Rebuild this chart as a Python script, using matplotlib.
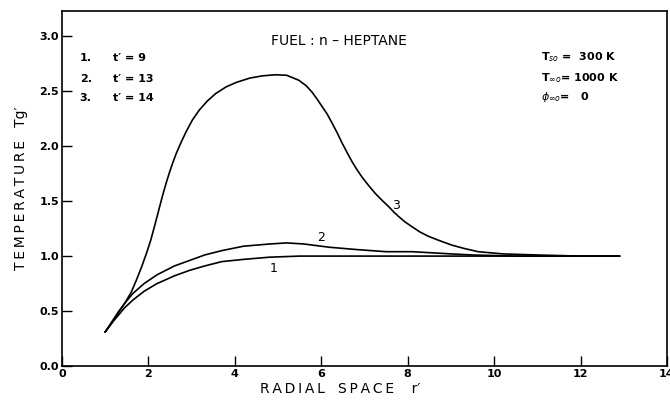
import matplotlib
matplotlib.use("Agg")
from matplotlib import pyplot as plt

# Gas temperature profiles (r', Tg')
r1 = [1.0, 1.15, 1.3, 1.45, 1.64, 1.9, 2.2, 2.6, 2.95, 3.3, 3.7, 4.2, 4.8, 5.5, 6.5, 8.0, 10.0, 12.9]
t1 = [0.31, 0.39, 0.46, 0.53, 0.60, 0.68, 0.75, 0.82, 0.87, 0.91, 0.95, 0.97, 0.99, 1.0, 1.0,
      1.0, 1.0, 1.0]

r2 = [1.0, 1.15, 1.3, 1.45, 1.64, 1.9, 2.2, 2.6, 2.95, 3.3, 3.7, 4.2, 4.8, 5.2, 5.6, 6.2, 6.8,
      7.5, 8.1, 9.0, 9.5, 10.5, 12.9]
t2 = [0.31, 0.40, 0.49, 0.57, 0.66, 0.75, 0.83, 0.91, 0.96, 1.01, 1.05, 1.09, 1.11, 1.12, 1.11,
      1.08, 1.06, 1.04, 1.04, 1.02, 1.01, 1.0, 1.0]

r3 = [1.0, 1.15, 1.3, 1.45, 1.6, 1.72, 1.85, 1.95, 2.05, 2.14, 2.2, 2.26, 2.32, 2.37, 2.43,
      2.49, 2.56, 2.64, 2.75, 2.87, 3.02, 3.18, 3.36, 3.56, 3.8, 4.03, 4.35, 4.64, 4.95, 5.2,
      5.48, 5.65, 5.79, 5.9, 6.02, 6.14, 6.25, 6.37, 6.48, 6.6, 6.71, 6.82, 6.94, 7.1, 7.25,
      7.4, 7.56, 7.68, 7.79, 7.94, 8.09, 8.28, 8.48, 8.74, 9.02, 9.3, 9.63, 10.2, 11.0, 12.0,
      12.9]
t3 = [0.31, 0.39, 0.48, 0.57, 0.67, 0.78, 0.91, 1.02, 1.14, 1.27, 1.36, 1.45, 1.54, 1.61, 1.69,
      1.765, 1.845, 1.93, 2.03, 2.13, 2.24, 2.33, 2.41, 2.48, 2.54, 2.58, 2.62, 2.64, 2.65, 2.645,
      2.60, 2.55, 2.49, 2.43, 2.36, 2.29, 2.21, 2.12, 2.03, 1.94, 1.86, 1.79, 1.72, 1.64, 1.57,
      1.51, 1.45, 1.40, 1.36, 1.31, 1.27, 1.22, 1.18, 1.14, 1.10, 1.07, 1.04, 1.02, 1.01, 1.00,
      1.00]

times = ["9", "13", "14"]
xticks = [0, 2, 4, 6, 8, 10, 12, 14]
yticks = [0.0, 0.5, 1.0, 1.5, 2.0, 2.5, 3.0]


def spaced(s):
    # loose letter spacing like the typeset original
    return "\u2009".join(s)


fig = plt.figure(figsize=(6.7, 4.05), dpi=100)
ax = fig.add_axes([62 / 670, 1 - 366 / 405, 605 / 670, 355 / 405])

for r, t in [(r1, t1), (r2, t2), (r3, t3)]:
    ax.plot(r, t, color="black", lw=1.2, solid_joinstyle="round")

ax.set_xlim(0, 14)
ax.set_ylim(0, 3.23)
ax.set_xticks(xticks)
ax.set_xticklabels([str(x) for x in xticks])
ax.set_yticks(yticks)
ax.set_yticklabels(["%.1f" % y for y in yticks])
ax.tick_params(direction="in", length=7, width=1.0, labelsize=8, pad=2)
for lab in ax.get_xticklabels() + ax.get_yticklabels():
    lab.set_fontweight("bold")
for s in ax.spines.values():
    s.set_linewidth(1.2)

ax.set_xlabel(spaced("RADIAL") + "   " + spaced("SPACE") + "    r\u2032", fontsize=10)
ax.xaxis.set_label_coords(0.46, -0.045, transform=ax.transAxes)
ax.xaxis.label.set_va("top")
ax.set_ylabel(spaced("TEMPERATURE") + "   Tg\u2032", fontsize=10, labelpad=8)

# curve labels
ax.text(4.9, 0.89, "1", fontsize=9, ha="center", va="center")
ax.text(6.0, 1.17, "2", fontsize=9, ha="center", va="center")
ax.text(7.72, 1.46, "3", fontsize=9, ha="center", va="center")

ax.text(6.41, 2.96, "FUEL : n \u2013 HEPTANE", fontsize=10, ha="center", va="center")

rows = [2.80, 2.61, 2.44]
for i, (tm, y) in enumerate(zip(times, rows)):
    ax.text(0.41, y, "%d." % (i + 1), fontsize=8, fontweight="bold", va="center")
    ax.text(1.17, y, "t\u2032 = " + tm, fontsize=8, fontweight="bold", va="center")

ax.text(11.08, 2.81, r"T$_{so}$ =  300 K", fontsize=8, fontweight="bold", va="center")
ax.text(11.08, 2.62, r"T$_{\infty o}$= 1000 K", fontsize=8, fontweight="bold", va="center")
ax.text(11.08, 2.45, r"$\phi_{\infty o}$=   0", fontsize=8, fontweight="bold", va="center")

fig.savefig("out.png", dpi=100)
